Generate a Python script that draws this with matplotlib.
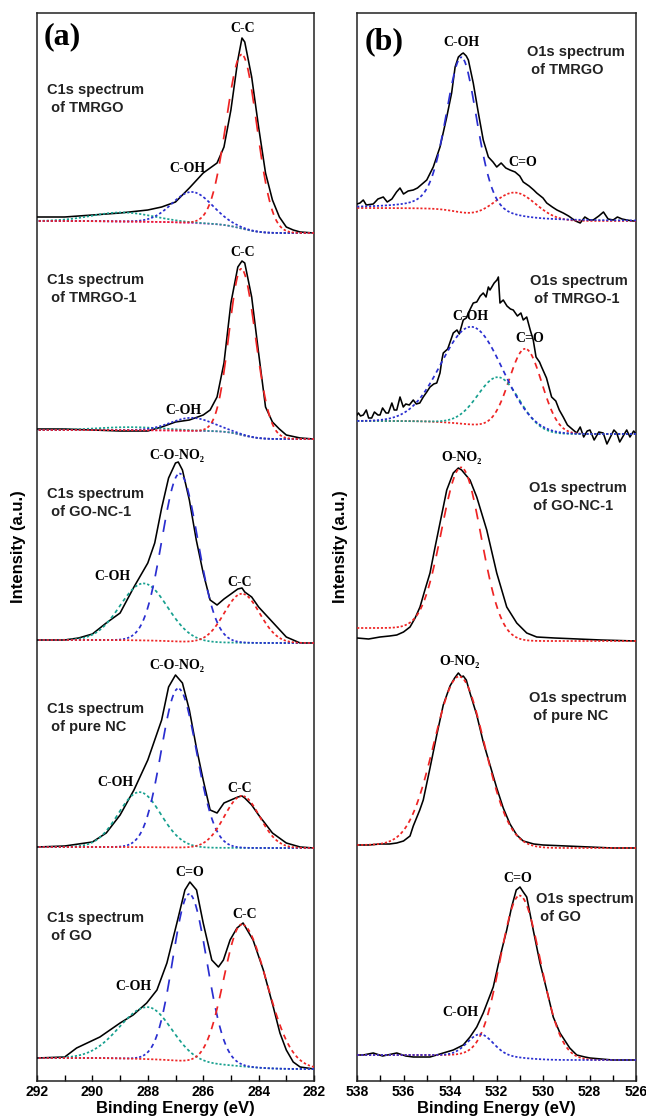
import numpy as np
import matplotlib.pyplot as plt
from matplotlib.ticker import MultipleLocator

plt.rcParams['font.family'] = ['Liberation Sans', 'DejaVu Sans']

# ---------------- values ----------------
# intensity (a.u.) is measured above each curve's right-hand (low BE) baseline

# (a) C1s
c1s_tmrgo_e = [292, 291, 290, 289, 288, 287.5, 287, 286.5, 286, 285.5, 285.25, 285, 284.75,
               284.6, 284.5, 284.25, 284, 283.75, 283.5, 283.25, 283, 282.75, 282.5, 282]
c1s_tmrgo_i = [16, 16, 18, 20, 23, 26, 31, 45, 60, 70, 86, 123, 173,
               195, 191, 156, 106, 60, 33, 16, 6, 3, 1, 0]

c1s_tmrgo1_e = [292, 291, 290, 289, 288, 287.5, 287, 286.5, 286, 285.75, 285.5, 285.25, 285,
                284.75, 284.6, 284.5, 284.25, 284, 283.75, 283.5, 283.25, 283, 282.5, 282]
c1s_tmrgo1_i = [10, 10, 9, 8, 8, 12, 17, 19, 24, 29, 42, 76, 136,
                172, 178, 176, 142, 86, 32, 17, 10, 4, 1, 0]

c1s_gonc1_e = [292, 291, 290.5, 290, 289.5, 289, 288.5, 288, 287.75, 287.5, 287.25, 287, 286.9,
               286.75, 286.5, 286.25, 286, 285.75, 285.5, 285.25, 285, 284.75, 284.6, 284.5,
               284.25, 284, 283.5, 283, 282.5, 282]
c1s_gonc1_i = [3, 3, 5, 9, 20, 30, 56, 80, 100, 135, 165, 180, 181,
               173, 143, 103, 70, 43, 38, 44, 49, 54, 55, 51,
               46, 36, 21, 6, 0, 0]

c1s_nc_e = [292, 291, 290, 289.5, 289, 288.5, 288, 287.5, 287.25, 287, 286.75, 286.5, 286.25,
            286, 285.75, 285.5, 285.25, 285, 284.75, 284.6, 284.5, 284.25, 284, 283.5, 283,
            282.5, 282]
c1s_nc_i = [1, 2, 6, 15, 33, 58, 88, 128, 161, 173, 165, 138, 101,
            68, 38, 35, 45, 48, 51, 52, 50, 43, 33, 15, 5,
            1, 0]

c1s_go_e = [292, 291, 290.57, 289.73, 289.0, 288.53, 288.04, 287.67, 287.31, 286.95, 286.66,
            286.48, 286.24, 286.0, 285.69, 285.45, 285.27, 285.03, 284.78, 284.56, 284.2,
            283.83, 283.47, 283.23, 283.0, 282.75, 282.5, 282]
c1s_go_i = [11, 12, 21, 32, 46, 54, 66, 79, 106, 146, 179,
            187, 179, 146, 109, 102, 109, 129, 141, 146, 129,
            99, 62, 36, 19, 7, 2, 0]

# fitted peaks: (centre eV, height, FWHM high-BE side, FWHM low-BE side, Lorentz fraction)
c1s_tmrgo_fit = [(284.6, 174, 1.32, 1.27, 0), (286.4, 31, 1.7, 1.7, 0), (288.9, 9, 2.6, 2.6, 0)]
c1s_tmrgo1_fit = [(284.62, 166, 1.04, 1.2, 0), (286.4, 13, 1.8, 1.8, 0), (288.6, 3, 2.8, 2.8, 0)]
c1s_gonc1_fit = [(284.6, 49, 1.5, 1.5, 0), (286.85, 168, 1.5, 1.55, 0), (288.15, 57, 2.0, 2.0, 0)]
c1s_nc_fit = [(284.6, 52, 1.5, 1.5, 0), (286.9, 159, 1.45, 1.55, 0), (288.3, 55, 1.8, 1.8, 0)]
c1s_go_fit = [(284.6, 142, 1.55, 2.1, 0), (286.5, 168, 1.4, 1.5, 0), (288.0, 52, 2.4, 2.0, 0)]
c1s_bg_left = [12, 9, 3, 1, 11]

# (b) O1s
o1s_tmrgo_e = [538, 537.87, 537.73, 537.6, 537.3, 537.1, 536.87, 536.7, 536.5, 536.3, 536.15,
               536.0, 535.8, 535.58, 535.4, 535.2, 535.0, 534.72, 534.43, 534.14, 533.93,
               533.78, 533.64, 533.5, 533.43, 533.3, 533.21, 533.0, 532.78, 532.57, 532.35,
               532.15, 531.99, 531.8, 531.6, 531.42, 531.2, 531.0, 530.85, 530.6, 530.4,
               530.27, 530.0, 529.84, 529.6, 529.4, 529.13, 528.9, 528.6, 528.4, 528.2, 528.0,
               527.84, 527.6, 527.4, 527.2, 526.98, 526.8, 526.6, 526.4, 526.12, 526]
o1s_tmrgo_i = [17, 18, 21, 16, 17, 22, 24, 19, 22, 29, 33,
               27, 30, 31, 33, 37, 41, 54, 74, 104, 128,
               154, 164, 167, 168, 165, 161, 138, 108, 81, 64,
               59, 54, 58, 53, 51, 49, 45, 39, 35, 31,
               28, 23, 18, 14, 11, 8, 5, 0, -2, 4, 1,
               1, 5, 9, 2, 1, 4, 2, 1, 0, 0]

o1s_tmrgo1_e = [538, 537.94, 537.85, 537.73, 537.6, 537.5, 537.37, 537.25, 537.1, 537.01, 536.9,
                536.75, 536.65, 536.5, 536.4, 536.29, 536.15, 536.01, 535.9, 535.75, 535.58,
                535.45, 535.3, 535.15, 535.0, 534.86, 534.7, 534.57, 534.43, 534.35, 534.29,
                534.1, 533.86, 533.7, 533.6, 533.43, 533.3, 533.15, 533.0, 532.85, 532.7,
                532.57, 532.45, 532.35, 532.28, 532.1, 531.98, 531.92, 531.85, 531.71, 531.55,
                531.4, 531.28, 531.1, 530.95, 530.85, 530.7, 530.55, 530.42, 530.3, 530.15,
                530.06, 529.85, 529.63, 529.45, 529.3, 529.13, 528.95, 528.8, 528.55, 528.4,
                528.25, 528.1, 527.98, 527.8, 527.6, 527.41, 527.25, 527.1, 526.95, 526.83,
                526.7, 526.55, 526.4, 526.26, 526.1, 526]
o1s_tmrgo1_i = [19, 21, 18, 19, 24, 16, 16, 22, 19, 19, 26,
                21, 21, 31, 24, 24, 37, 27, 30, 29, 34,
                30, 31, 37, 42, 47, 50, 51, 61, 74, 81,
                85, 101, 104, 100, 114, 116, 124, 131, 132, 138,
                141, 137, 147, 144, 151, 154, 157, 131, 134, 128,
                125, 124, 118, 121, 114, 117, 104, 94, 77, 72,
                67, 56, 37, 33, 24, 17, 9, 6, 1, 7,
                -3, 3, 4, -6, 2, 1, -10, -3, 4, 1,
                -8, -2, 4, -3, 3, 0]

o1s_gonc1_e = [538, 537.5, 537.01, 536.6, 536.29, 536.0, 535.72, 535.5, 535.29, 535.08, 534.86,
               534.65, 534.43, 534.14, 533.86, 533.64, 533.5, 533.43, 533.14, 532.85, 532.42,
               531.99, 531.56, 531.13, 530.7, 530.27, 529.5, 528.5, 527.5, 526]
o1s_gonc1_i = [3, 2, 4, 5, 6, 9, 14, 23, 34, 51, 68,
               93, 118, 151, 168, 173, 171, 169, 161, 144, 111,
               68, 34, 18, 8, 4, 3, 2, 1, 0]

o1s_nc_e = [538, 537.5, 537.0, 536.6, 536.29, 536.0, 535.72, 535.58, 535.3, 535.15, 534.86,
            534.57, 534.29, 534.0, 533.8, 533.64, 533.5, 533.43, 533.3, 533.14, 532.85,
            532.57, 532.28, 531.99, 531.71, 531.42, 531.13, 530.85, 530.4, 530.0, 529.0,
            528.0, 527.0, 526]
o1s_nc_i = [3, 3, 4, 4, 5, 7, 12, 22, 38, 48, 80,
            113, 143, 162, 170, 175, 171, 172, 168, 155, 133,
            106, 83, 60, 40, 24, 13, 7, 4, 3, 2,
            1, 0, 0]

o1s_go_e = [538, 537.73, 537.3, 536.9, 536.29, 535.9, 535.58, 535.2, 534.86, 534.29, 533.86,
            533.43, 533.14, 532.85, 532.57, 532.14, 531.85, 531.56, 531.35, 531.15, 530.99,
            530.85, 530.7, 530.42, 530.13, 529.84, 529.56, 529.27, 528.85, 528.55, 528.2,
            527.98, 527.5, 527.0, 526.5, 526]
o1s_go_i = [5, 5, 7, 4, 7, 4, 3, 3, 3, 7, 10,
            15, 23, 33, 47, 73, 103, 130, 153, 170, 173,
            168, 163, 130, 97, 70, 43, 27, 12, 5, 3,
            2, 1, 0, 0, 0]

o1s_tmrgo_fit = [(533.5, 156, 1.6, 1.6, 0.3), (531.2, 27, 2.1, 2.1, 0)]
o1s_tmrgo1_fit = [(533.05, 98, 3.1, 3.1, 0), (531.9, 51, 2.1, 2.1, 0), (530.75, 83, 1.65, 1.65, 0)]
o1s_gonc1_fit = [(533.5, 167, 2.0, 2.0, 0)]
o1s_nc_fit = [(533.6, 170, 2.55, 2.55, 0)]
o1s_go_fit = [(532.7, 21, 1.3, 1.3, 0), (531.0, 162, 1.95, 2.1, 0)]
o1s_bg_left = [13, 13, 13, 3, 5]

# ---------------- layout / styles ----------------
Y_BOTTOM = 1081          # reference pixel row of the x axis
c1s_base_px = [233, 439, 643, 848, 1069]
o1s_base_px = [221, 434, 641, 848, 1060]

RED, BLUE, TEAL, MAG = '#ee2424', '#2a2ed0', '#17a08f', '#e22ad8'
c1s_colors = [[RED, BLUE, TEAL], [RED, BLUE, TEAL], [RED, BLUE, TEAL],
              [RED, BLUE, TEAL], [RED, BLUE, TEAL]]
o1s_colors = [[BLUE, RED], [BLUE, TEAL, RED], [RED], [RED], [BLUE, RED]]
c1s_show_bg = [True, True, False, False, False]


def peak(e, c, h, fw_hi, fw_lo, eta):
    fw = np.where(e >= c, fw_hi, fw_lo)
    g = np.exp(-4 * np.log(2) * ((e - c) / fw) ** 2)
    lor = 1 / (1 + (2 * (e - c) / fw) ** 2)
    return h * ((1 - eta) * g + eta * lor)


def shirley(e, total, left):
    cum = np.cumsum(total)
    return left * cum / cum[-1]


def xdash(ax, e, y, color, period, duty=0.55):
    # dash pattern laid out along the energy axis, like the original
    phase = np.mod((e - e[0]) / period, 1.0)
    ax.plot(e, np.where(phase < duty, y, np.nan), color=color, lw=1.25,
            solid_capstyle='butt', zorder=4)


def draw(ax, lo, hi, curves, fits, colors, bg_left, bases, show_bg, period):
    grid = np.linspace(lo, hi, 4001)
    for k in range(len(curves)):
        e, i = curves[k]
        off = Y_BOTTOM - bases[k]
        ax.plot(e, off + np.array(i), color='black', lw=1.15, zorder=3)
        pk = [peak(grid, *p) for p in fits[k]]
        bg = shirley(grid, sum(pk), bg_left[k])
        if show_bg[k]:
            xdash(ax, grid, off + bg, MAG, period)
        for p, col in reversed(list(zip(pk, colors[k]))):
            xdash(ax, grid, off + bg + p, col, period)


fig = plt.figure(figsize=(6.46, 11.19), dpi=100)
axa = fig.add_axes([37 / 646, 38 / 1119, 277 / 646, 1068 / 1119])
axb = fig.add_axes([357 / 646, 38 / 1119, 279 / 646, 1068 / 1119])

draw(axa, 282, 292,
     [(c1s_tmrgo_e, c1s_tmrgo_i), (c1s_tmrgo1_e, c1s_tmrgo1_i), (c1s_gonc1_e, c1s_gonc1_i),
      (c1s_nc_e, c1s_nc_i), (c1s_go_e, c1s_go_i)],
     [c1s_tmrgo_fit, c1s_tmrgo1_fit, c1s_gonc1_fit, c1s_nc_fit, c1s_go_fit],
     c1s_colors, c1s_bg_left, c1s_base_px, c1s_show_bg, 0.145)
draw(axb, 526, 538,
     [(o1s_tmrgo_e, o1s_tmrgo_i), (o1s_tmrgo1_e, o1s_tmrgo1_i), (o1s_gonc1_e, o1s_gonc1_i),
      (o1s_nc_e, o1s_nc_i), (o1s_go_e, o1s_go_i)],
     [o1s_tmrgo_fit, o1s_tmrgo1_fit, o1s_gonc1_fit, o1s_nc_fit, o1s_go_fit],
     o1s_colors, o1s_bg_left, o1s_base_px, [False] * 5, 0.17)

for ax, lim, ticks in [(axa, (292, 282), range(292, 281, -2)),
                       (axb, (538, 526), range(538, 525, -2))]:
    ax.set_xlim(*lim)
    ax.set_ylim(0, Y_BOTTOM - 13)
    ax.set_xticks(list(ticks))
    ax.xaxis.set_minor_locator(MultipleLocator(1))
    ax.set_yticks([])
    ax.tick_params(axis='x', which='both', direction='in', length=4, width=1,
                   labelsize=10, pad=3)
    for lab in ax.get_xticklabels():
        lab.set_fontweight('bold')
    for sp in ax.spines.values():
        sp.set_linewidth(1.1)
        sp.set_color('#222222')
    ax.set_xlabel('Binding Energy (eV)', fontsize=12, fontweight='bold', labelpad=1)
    ax.set_ylabel('Intensity (a.u.)', fontsize=12, fontweight='bold')
axa.yaxis.set_label_coords(-0.04, 0.5)
axb.yaxis.set_label_coords(-0.032, 0.5)

SERIF = ['Liberation Serif', 'DejaVu Serif']


def txt(ax, e, py, s, **kw):
    ax.text(e, Y_BOTTOM - py, s, **kw)


# panel letters
txt(axa, 291.75, 37, '(a)', fontsize=23, fontweight='bold', family=SERIF, va='center')
txt(axb, 537.66, 42, '(b)', fontsize=23, fontweight='bold', family=SERIF, va='center')

# sample names
sample_kw = dict(fontsize=10.5, fontweight='bold', va='center', linespacing=1.45, color='#222222')
for e, py, name in [(291.64, 99, 'TMRGO'), (291.64, 289, 'TMRGO-1'), (291.64, 503, 'GO-NC-1'),
                    (291.64, 718, 'pure NC'), (291.64, 927, 'GO')]:
    txt(axa, e, py, 'C1s spectrum\n of ' + name, **sample_kw)
for e, py, name in [(530.7, 61, 'TMRGO'), (530.56, 290, 'TMRGO-1'), (530.6, 497, 'GO-NC-1'),
                    (530.6, 707, 'pure NC'), (530.3, 908, 'GO')]:
    txt(axb, e, py, 'O1s spectrum\n of ' + name, **sample_kw)

# peak assignments
peak_kw = dict(fontsize=10, fontweight='bold', family=SERIF, ha='center', va='center')
for e, py, s in [(284.56, 29, 'C-C'), (286.58, 168, 'C-OH'),
                 (284.56, 253, 'C-C'), (286.73, 410, 'C-OH'),
                 (286.95, 455, 'C-O-NO₂'), (289.26, 577, 'C-OH'), (284.67, 583, 'C-C'),
                 (286.95, 665, 'C-O-NO₂'), (289.18, 782, 'C-OH'), (284.67, 788, 'C-C'),
                 (286.48, 873, 'C=O'), (284.49, 915, 'C-C'), (288.53, 987, 'C-OH')]:
    txt(axa, e, py, s, **peak_kw)
for e, py, s in [(533.5, 43, 'C-OH'), (530.86, 162, 'C=O'),
                 (533.14, 317, 'C-OH'), (530.56, 338, 'C=O'),
                 (533.5, 457, 'O-NO₂'), (533.57, 662, 'O-NO₂'),
                 (531.08, 878, 'C=O'), (533.57, 1012, 'C-OH')]:
    txt(axb, e, py, s, **peak_kw)

fig.savefig('out.png', dpi=100)
